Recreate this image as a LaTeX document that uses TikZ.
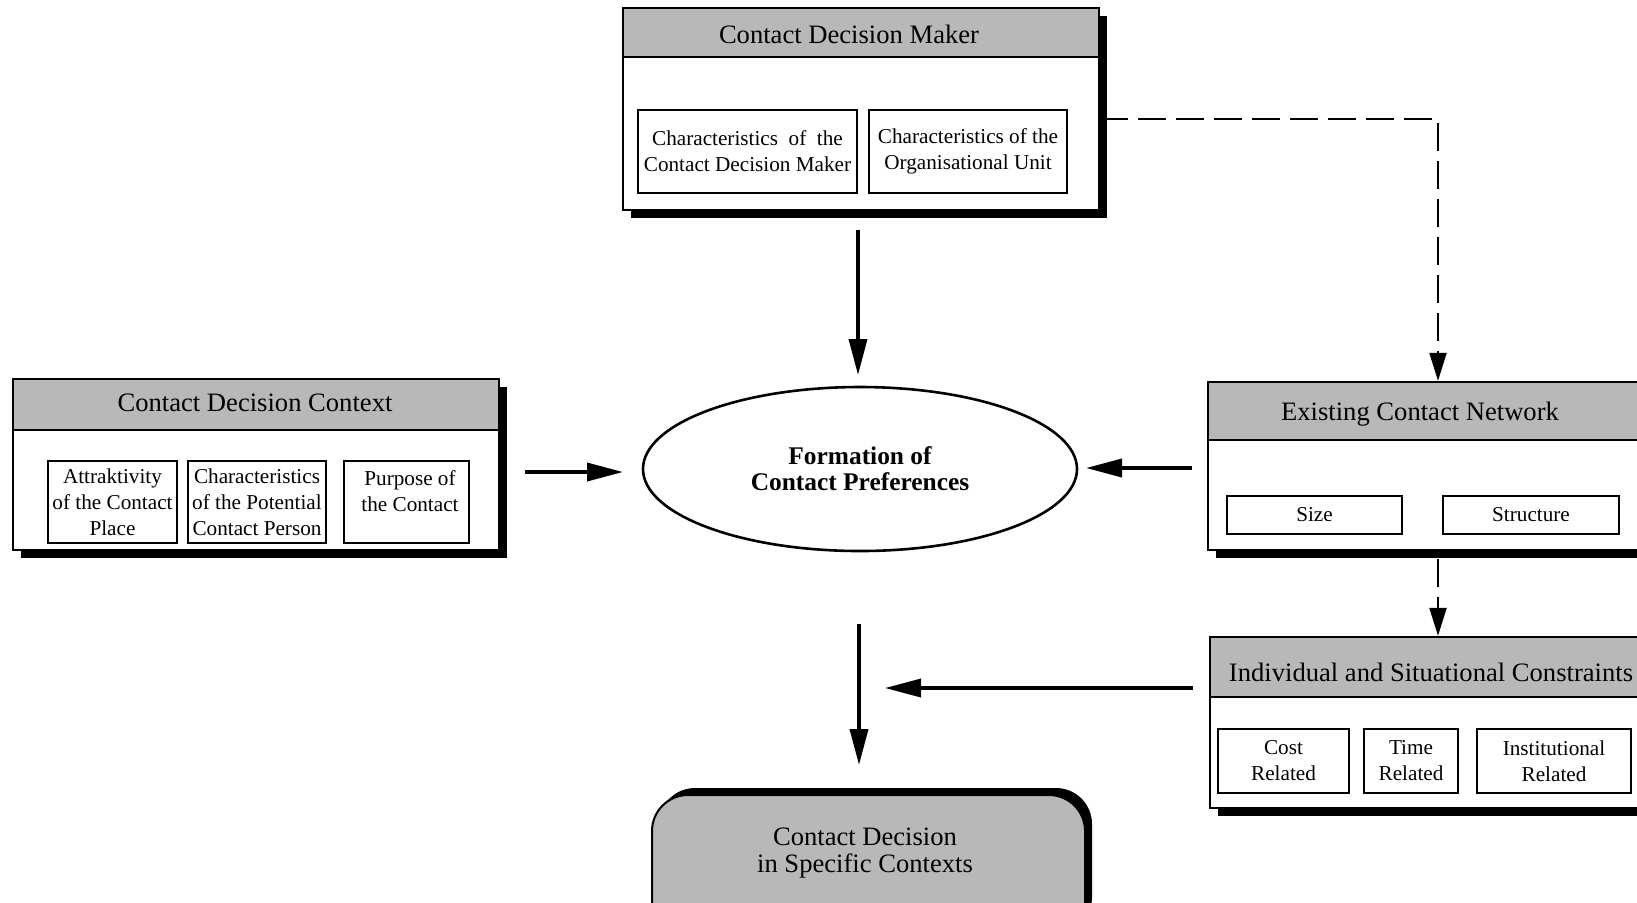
\documentclass[tikz,border=0pt]{standalone}
\usepackage{fontspec}
\setmainfont{Liberation Serif}
\usetikzlibrary{arrows.meta,fit,shapes.geometric,shadows}
\newcommand\fntTitle{\fontsize{13.3pt}{13.5pt}\selectfont}
\newcommand\fntInner{\fontsize{10.6pt}{13pt}\selectfont}
\newcommand\fntBold{\fontsize{12.7pt}{13pt}\selectfont\bfseries}
\begin{document}
\begin{tikzpicture}[x=0.5pt,y=-0.5pt,
  outerbox/.style={draw, line width=1.2pt, fill=white, inner sep=0pt,
    drop shadow={shadow xshift=4pt, shadow yshift=-4pt, fill=black, opacity=1}},
  titlebar/.style={draw, line width=1.2pt, fill=black!28, inner sep=0pt},
  innerbox/.style={draw, line width=1pt, inner sep=0pt},
  ttext/.style={font=\fntTitle, inner sep=0pt},
  itext/.style={font=\fntInner, align=center, inner sep=0pt},
  arr/.style={line width=1.8pt, -{Triangle[length=18pt, width=9pt]}},
  darr/.style={line width=1.1pt, dash pattern=on 14pt off 5pt, -{Triangle[length=14pt, width=8.5pt]}}
]
\useasboundingbox (0,0) rectangle (1637,902);
\clip (0,0) rectangle (1637,902);

% Contact Decision Maker
\node[outerbox, fit={(623,8) (1099,210)}] (cdm) {};
\node[titlebar, fit={(623,8) (1099,57)}] (cdmT) {};
\node[ttext] (cdmTt) at (849,34) {Contact Decision Maker};
\node[innerbox, fit={(638,110) (857,193)}] (cdmA) {};
\node[itext] (cdmAt) at (cdmA.center) {Characteristics \ of \ the\\Contact Decision Maker};
\node[innerbox, fit={(869,110) (1067,193)}] (cdmB) {};
\node[itext] (cdmBt) at (cdmB.center) {Characteristics of the\\Organisational Unit};

% Contact Decision Context
\node[outerbox, fit={(13,379) (499,550)}] (ctx) {};
\node[titlebar, fit={(13,379) (499,430)}] (ctxT) {};
\node[ttext] (ctxTt) at (255,403) {Contact Decision Context};
\node[innerbox, fit={(48,461) (177,543)}] (ctxA) {};
\node[itext] (ctxAt) at (ctxA.center) {Attraktivity\\of the Contact\\Place};
\node[innerbox, fit={(188,461) (326,543)}] (ctxB) {};
\node[itext] (ctxBt) at (ctxB.center) {Characteristics\\of the Potential\\Contact Person};
\node[innerbox, fit={(344,461) (469,543)}] (ctxC) {};
\node[itext] (ctxCt) at (410,491) {Purpose of\\the Contact};

% Existing Contact Network
\node[outerbox, fit={(1208,382) (1665,550)}] (ecn) {};
\node[titlebar, fit={(1208,382) (1665,440)}] (ecnT) {};
\node[ttext] (ecnTt) at (1420,414) {Existing Contact Network};
\node[innerbox, fit={(1227,496) (1402,534)}] (ecnA) {};
\node[itext] (ecnAt) at (ecnA.center) {Size};
\node[innerbox, fit={(1443,496) (1619,534)}] (ecnB) {};
\node[itext] (ecnBt) at (ecnB.center) {Structure};

% Individual and Situational Constraints
\node[outerbox, fit={(1210,637) (1665,808)}] (isc) {};
\node[titlebar, fit={(1210,637) (1665,697)}] (iscT) {};
\node[ttext] (iscTt) at (1431,672) {Individual and Situational Constraints};
\node[innerbox, fit={(1218,729) (1349,793)}] (iscA) {};
\node[itext] (iscAt) at (iscA.center) {Cost\\Related};
\node[innerbox, fit={(1364,729) (1458,793)}] (iscB) {};
\node[itext] (iscBt) at (iscB.center) {Time\\Related};
\node[innerbox, fit={(1477,729) (1631,793)}] (iscC) {};
\node[itext] (iscCt) at (iscC.center) {Institutional\\Related};

% Formation of Contact Preferences
\node[ellipse, draw, line width=1.3pt, minimum width=217pt, minimum height=82pt, inner sep=0pt,
  font=\fntBold, align=center] (form) at (860,469) {Formation of\\Contact Preferences};

% Contact Decision in Specific Contexts
\node[draw, line width=1pt, fill=black!28, rounded corners=18pt, inner sep=0pt,
  drop shadow={shadow xshift=3.5pt, shadow yshift=3.5pt, fill=black, opacity=1},
  fit={(652,795) (1085,940)}] (dec) {};
\node[ttext, align=center] (dect) at (865,853) {Contact Decision\\in Specific Contexts};

% connectors
\coordinate (a1s) at (858,230);
\coordinate (a1e) at (858,375);
\draw[arr] (a1s) -- (a1e);
\coordinate (a2s) at (525,472);
\coordinate (a2e) at (623,472);
\draw[arr] (a2s) -- (a2e);
\coordinate (a3s) at (1192,468);
\coordinate (a3e) at (1086,468);
\draw[arr] (a3s) -- (a3e);
\coordinate (a4s) at (1193,688);
\coordinate (a4e) at (885,688);
\draw[arr] (a4s) -- (a4e);
\coordinate (a5s) at (859,624);
\coordinate (a5e) at (859,765);
\draw[arr] (a5s) -- (a5e);

\coordinate (d1) at (1438,119);
\draw[darr] (cdm.east |- d1) -- (d1) -- (d1 |- ecn.north);
\coordinate (d2) at (1438,559);
\draw[darr] (d2) -- (d2 |- isc.north);
\end{tikzpicture}
\end{document}
